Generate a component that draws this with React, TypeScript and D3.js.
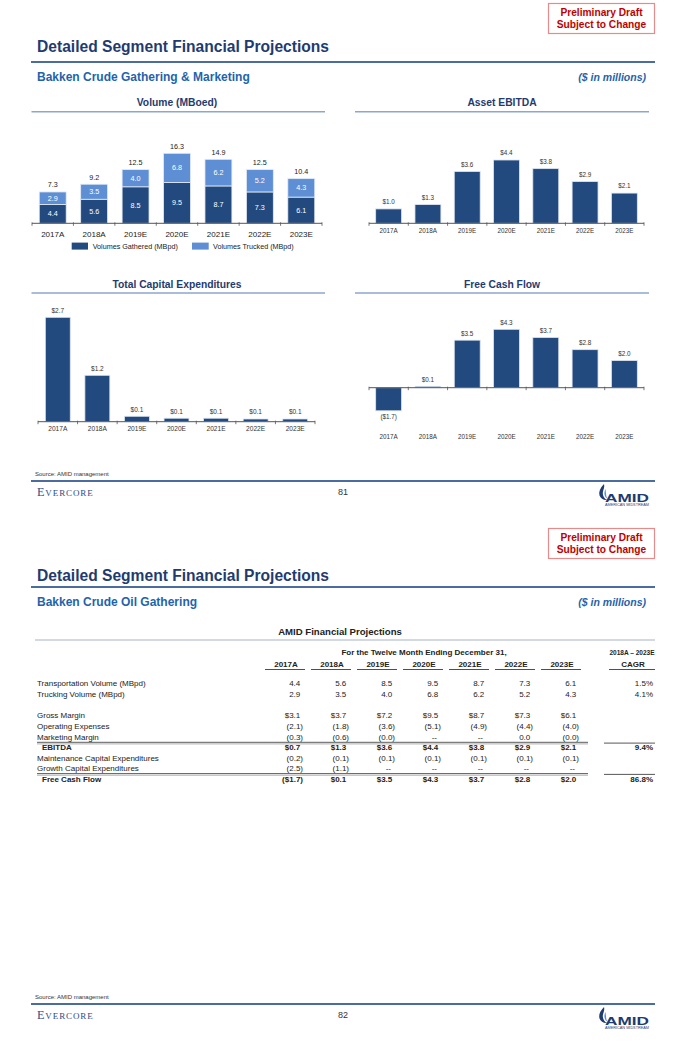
import React from 'react';
import * as d3 from 'd3';

// ---------- data ----------
const years = ['2017A', '2018A', '2019E', '2020E', '2021E', '2022E', '2023E'];
const volGathered = [4.4, 5.6, 8.5, 9.5, 8.7, 7.3, 6.1];
const volTrucked = [2.9, 3.5, 4.0, 6.8, 6.2, 5.2, 4.3];
const volTotal = [7.3, 9.2, 12.5, 16.3, 14.9, 12.5, 10.4];
const assetEbitda = [1.0, 1.3, 3.6, 4.4, 3.8, 2.9, 2.1];
const totalCapex = [2.7, 1.2, 0.14, 0.09, 0.09, 0.07, 0.07];
const freeCashFlow = [-1.7, 0.1, 3.5, 4.3, 3.7, 2.8, 2.0];
const legendLabels = ['Volumes Gathered (MBpd)', 'Volumes Trucked (MBpd)'];

// table data
const tblTransport = [4.4, 5.6, 8.5, 9.5, 8.7, 7.3, 6.1];
const tblTrucking = [2.9, 3.5, 4.0, 6.8, 6.2, 5.2, 4.3];
const tblGrossMargin = [3.1, 3.7, 7.2, 9.5, 8.7, 7.3, 6.1];
const tblOpex = [-2.1, -1.8, -3.6, -5.1, -4.9, -4.4, -4.0];
const tblMarketing = [-0.3, -0.6, -0.01, null, null, 0.01, -0.01];
const tblEbitda = [0.7, 1.3, 3.6, 4.4, 3.8, 2.9, 2.1];
const tblMaintCapex = [-0.2, -0.1, -0.1, -0.1, -0.1, -0.1, -0.1];
const tblGrowthCapex = [-2.5, -1.1, null, null, null, null, null];
const tblFcf = [-1.7, 0.1, 3.5, 4.3, 3.7, 2.8, 2.0];
const rowLabels = [
  'Transportation Volume (MBpd)', 'Trucking Volume (MBpd)', 'Gross Margin', 'Operating Expenses',
  'Marketing Margin', 'EBITDA', 'Maintenance Capital Expenditures', 'Growth Capital Expenditures', 'Free Cash Flow',
];
const rowCagr = ['1.5%', '4.1%', '', '', '', '9.4%', '', '', '86.8%'];

// ---------- style ----------
const NAVY = '#1F3B6F';
const BLUE_SUB = '#1F63AC';
const BAR_DARK = '#234A7E';
const BAR_LIGHT = '#5E8FD5';
const FONT = '"Liberation Sans", Arial, sans-serif';

const fmt = (v: number | null, dollar: boolean) => {
  if (v == null) return '--';
  const s = (dollar ? '$' : '') + Math.abs(v).toFixed(1);
  return v < 0 ? `(${s})` : s;
};

function Header({ y0, subtitle, titleDy = 0 }: { y0: number; subtitle: string; titleDy?: number }) {
  return (
    <g>
      <rect x={548.5} y={y0 + 3.5} width={106} height={30} fill="#fff" stroke="#E88A8A" strokeWidth={1.2} />
      <text x={601.5} y={y0 + 15.8} textAnchor="middle" fontSize={10.2} fontWeight="bold" fill="#C00000">Preliminary Draft</text>
      <text x={601.5} y={y0 + 28.3} textAnchor="middle" fontSize={10.2} fontWeight="bold" fill="#C00000">Subject to Change</text>
      <text x={37} y={y0 + 52 + titleDy} fontSize={15.6} fontWeight="bold" fill={NAVY}>Detailed Segment Financial Projections</text>
      <line x1={31} x2={655} y1={y0 + 62} y2={y0 + 62} stroke="#4A6C9E" strokeWidth={2} />
      <text x={37} y={y0 + 81} fontSize={12} fontWeight="bold" fill={BLUE_SUB}>{subtitle}</text>
      <text x={646} y={y0 + 80.5} textAnchor="end" fontSize={10.5} fontWeight="bold" fontStyle="italic" fill={BLUE_SUB}>($ in millions)</text>
    </g>
  );
}

function Footer({ y0, page }: { y0: number; page: string }) {
  return (
    <g>
      <text x={35} y={y0 + 476} fontSize={6} fill="#333">Source: AMID management</text>
      <line x1={31} x2={655} y1={y0 + 481} y2={y0 + 481} stroke="#4A6C9E" strokeWidth={2} />
      <text x={37} y={y0 + 495.5} fontSize={12.2} fill="#2B4C87" fontFamily='"Liberation Serif", "DejaVu Serif", serif' style={{ fontVariant: 'small-caps', letterSpacing: 0.9 }}>Evercore</text>
      <text x={343} y={y0 + 495} textAnchor="middle" fontSize={9} fill="#333">{page}</text>
      <g transform={`translate(599,${y0 + 484})`}>
        <path d="M5,0 C1,4 -0.5,8 0.5,11.5 C1.5,14.5 5,16.5 8,16 C5,14.5 3.2,11 4,7.5 C4.5,5 5.8,3 5,0 Z" fill="#1F3B6F" />
        <path d="M6.5,5 C5.2,7.5 5,10 6.2,12.5 C6.8,13.5 7.5,14 8,14 C6.8,11.5 7,8 6.5,5 Z" fill="#4F8FD8" />
      </g>
      <text x={605} y={y0 + 502} fontSize={10.5} fontWeight="bold" fill={NAVY} textLength={44} lengthAdjust="spacingAndGlyphs">AMID</text>
      <text x={605} y={y0 + 505.5} fontSize={2.6} fill={NAVY} textLength={44} lengthAdjust="spacingAndGlyphs">AMERICAN MIDSTREAM</text>
    </g>
  );
}

function ChartTitle({ cx, y, x1, x2, text }: { cx: number; y: number; x1: number; x2: number; text: string }) {
  return (
    <g>
      <text x={cx} y={y + 3.7} textAnchor="middle" fontSize={10.3} fontWeight="bold" fill={NAVY}>{text}</text>
      <line x1={x1} x2={x2} y1={y + 9} y2={y + 9} stroke="#8EA6CF" strokeWidth={1.5} />
    </g>
  );
}

function Axis({ x, y }: { x: d3.ScaleBand<string>; y: number }) {
  const [r0, r1] = x.range();
  const ticks = d3.range(years.length + 1).map((i) => r0 + ((r1 - r0) * i) / years.length);
  return (
    <g>
      <line x1={r0} x2={r1} y1={y} y2={y} stroke="#555" strokeWidth={1} />
      {ticks.map((t, i) => (
        <line key={i} x1={t} x2={t} y1={y - 1} y2={y + 2.5} stroke="#555" strokeWidth={0.8} />
      ))}
    </g>
  );
}

function VolumeChart() {
  const x = d3.scaleBand<string>().domain(years).range([32, 322]).paddingInner(0.35).paddingOuter(0.175);
  const y = d3.scaleLinear().domain([0, 16.3]).range([223.3, 153.3]);
  const rows = years.map((yr, i) => ({ year: yr, g: volGathered[i], t: volTrucked[i] }));
  const series = d3.stack<any>().keys(['g', 't'])(rows);
  const colors = [BAR_DARK, BAR_LIGHT];
  return (
    <g>
      <ChartTitle cx={177} y={102.7} x1={31.5} x2={325} text="Volume (MBoed)" />
      {series.map((s, si) => (
        <g key={si}>
          {s.map((d, i) => (
            <g key={i}>
              <rect x={x(years[i])} y={y(d[1])} width={x.bandwidth()} height={y(d[0]) - y(d[1])} fill={colors[si]} stroke="#E3EAF5" strokeWidth={0.8} />
              <text x={x(years[i])! + x.bandwidth() / 2} y={(y(d[0]) + y(d[1])) / 2 + 2.5} textAnchor="middle" fontSize={7.2} fill="#fff">
                {(d[1] - d[0]).toFixed(1)}
              </text>
            </g>
          ))}
        </g>
      ))}
      {volTotal.map((v, i) => (
        <text key={i} x={x(years[i])! + x.bandwidth() / 2} y={y(volGathered[i] + volTrucked[i]) - 4.5} textAnchor="middle" fontSize={7.2} fill="#222">{v.toFixed(1)}</text>
      ))}
      <Axis x={x} y={223.3} />
      {years.map((yr) => (
        <text key={yr} x={x(yr)! + x.bandwidth() / 2} y={237} textAnchor="middle" fontSize={8} fill="#222">{yr}</text>
      ))}
      <rect x={71.7} y={242.6} width={16.3} height={7} fill={BAR_DARK} />
      <text x={92.7} y={248.6} fontSize={7.2} fill="#222">{legendLabels[0]}</text>
      <rect x={192} y={242.6} width={16.7} height={7} fill={BAR_LIGHT} />
      <text x={213} y={248.6} fontSize={7.2} fill="#222">{legendLabels[1]}</text>
    </g>
  );
}

function SimpleBarChart({ values, xRange, yDomain, yRange, title, titleCx, titleY, lineX, yearY, labelSize, yearSize, pad }: any) {
  const x = d3.scaleBand<string>().domain(years).range(xRange).paddingInner(pad).paddingOuter(pad / 2);
  const y = d3.scaleLinear().domain(yDomain).range(yRange);
  const y0 = y(0);
  return (
    <g>
      <ChartTitle cx={titleCx} y={titleY} x1={lineX[0]} x2={lineX[1]} text={title} />
      {values.map((v: number, i: number) => {
        const top = Math.min(y(v), y0);
        const h = Math.abs(y(v) - y0);
        const cx = x(years[i])! + x.bandwidth() / 2;
        const lbl = v < 0 ? `($${Math.abs(v).toFixed(1)})` : `$${v.toFixed(1)}`;
        return (
          <g key={i}>
            <rect x={x(years[i])} y={top} width={x.bandwidth()} height={h} fill={BAR_DARK} stroke="#DDE5F2" strokeWidth={0.8} />
            <text x={cx} y={v < 0 ? y(v) + 8.3 : y(v) - 4.6} textAnchor="middle" fontSize={labelSize} fill="#333">{lbl}</text>
          </g>
        );
      })}
      <Axis x={x} y={y0} />
      {years.map((yr) => (
        <text key={yr} x={x(yr)! + x.bandwidth() / 2} y={yearY} textAnchor="middle" fontSize={yearSize} fill="#333">{yr}</text>
      ))}
    </g>
  );
}

function Table() {
  const colCenters = d3.scalePoint<string>().domain(years).range([286, 562]);
  const rowData: { vals: (number | null)[]; dollar: boolean; bold: boolean }[] = [
    { vals: tblTransport, dollar: false, bold: false },
    { vals: tblTrucking, dollar: false, bold: false },
    { vals: tblGrossMargin, dollar: true, bold: false },
    { vals: tblOpex, dollar: false, bold: false },
    { vals: tblMarketing, dollar: false, bold: false },
    { vals: tblEbitda, dollar: true, bold: true },
    { vals: tblMaintCapex, dollar: false, bold: false },
    { vals: tblGrowthCapex, dollar: false, bold: false },
    { vals: tblFcf, dollar: true, bold: true },
  ];
  const rowY = [683.5, 694.5, 715.5, 726.5, 737, 747.5, 758, 768.5, 779];
  const fs = 8;
  return (
    <g fontSize={fs} fill="#222">
      <text x={340} y={634.5} textAnchor="middle" fontSize={9.6} fontWeight="bold" fill="#222">AMID Financial Projections</text>
      <line x1={35} x2={655} y1={640} y2={640} stroke="#C3CCD9" strokeWidth={1.6} />
      <text x={424} y={655} textAnchor="middle" fontWeight="bold">For the Twelve Month Ending December 31,</text>
      <text x={632} y={655} textAnchor="middle" fontWeight="bold" textLength={45} lengthAdjust="spacingAndGlyphs">2018A – 2023E</text>
      {years.map((yr) => (
        <g key={yr}>
          <text x={colCenters(yr)} y={666.5} textAnchor="middle" fontWeight="bold">{yr}</text>
          <line x1={colCenters(yr)! - 21} x2={colCenters(yr)! + 19} y1={669.5} y2={669.5} stroke="#222" strokeWidth={0.8} />
        </g>
      ))}
      <text x={633} y={666.5} textAnchor="middle" fontWeight="bold">CAGR</text>
      <line x1={609} x2={655} y1={669.5} y2={669.5} stroke="#222" strokeWidth={0.8} />
      {rowData.map((r, ri) => (
        <g key={ri} fontWeight={r.bold ? 'bold' : 'normal'}>
          <text x={r.bold ? 42 : 37} y={rowY[ri] + 2.9}>{rowLabels[ri]}</text>
          {r.vals.map((v, ci) => {
            const R = colCenters(years[ci])! + 17;
            const neg = v != null && v < 0;
            return (
              <text key={ci} x={neg ? R : v == null ? R - 4 : R - 2.7} y={rowY[ri] + 2.9} textAnchor="end">{fmt(v, r.dollar)}</text>
            );
          })}
          {rowCagr[ri] && <text x={653} y={rowY[ri] + 2.9} textAnchor="end">{rowCagr[ri]}</text>}
        </g>
      ))}
      {[742.3, 773.6].map((ly, i) => (
        <g key={i}>
          <line x1={37} x2={588} y1={ly} y2={ly} stroke="#333" strokeWidth={0.8} />
          <line x1={37} x2={588} y1={ly + 1.6} y2={ly + 1.6} stroke="#999" strokeWidth={0.8} />
          <line x1={604} x2={655} y1={ly + 0.8} y2={ly + 0.8} stroke="#444" strokeWidth={0.9} />
        </g>
      ))}
    </g>
  );
}

export default function App() {
  return (
    <svg width={680} height={1049} viewBox="0 0 680 1049" style={{ position: 'absolute', left: 0, top: 0, background: '#fff' }} fontFamily={FONT}>
      <rect x={0} y={0} width={680} height={1049} fill="#fff" />
      {/* Page 1 */}
      <Header y0={0} subtitle="Bakken Crude Gathering & Marketing" />
      <VolumeChart />
      <SimpleBarChart values={assetEbitda} xRange={[369, 644]} yDomain={[0, 4.4]} yRange={[223.3, 160]}
        title="Asset EBITDA" titleCx={502} titleY={102.7} lineX={[355, 649]} yearY={233.3} labelSize={6.3} yearSize={6.3} pad={0.34} />
      <SimpleBarChart values={totalCapex} xRange={[38, 315]} yDomain={[0, 2.7]} yRange={[421.7, 317.3]}
        title="Total Capital Expenditures" titleCx={177} titleY={284} lineX={[31.5, 325]} yearY={431.4} labelSize={6.5} yearSize={6.6} pad={0.37} />
      <SimpleBarChart values={freeCashFlow} xRange={[369, 644]} yDomain={[0, 4.3]} yRange={[387.7, 329.3]}
        title="Free Cash Flow" titleCx={502} titleY={284} lineX={[355, 649]} yearY={439} labelSize={6.3} yearSize={6.3} pad={0.34} />
      <Footer y0={0} page="81" />
      {/* Page 2 */}
      <Header y0={525} subtitle="Bakken Crude Oil Gathering" titleDy={4} />
      <Table />
      <Footer y0={523} page="82" />
    </svg>
  );
}
